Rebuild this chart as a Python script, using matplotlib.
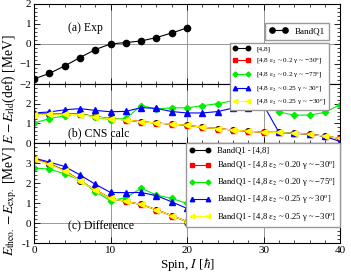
import matplotlib
matplotlib.use('Agg')
import matplotlib.pyplot as plt
from matplotlib.ticker import MultipleLocator

plt.rcParams['font.family'] = 'Liberation Serif'
plt.rcParams['mathtext.fontset'] = 'stix'

# ---- data ----
spin_exp = [0, 2, 4, 6, 8, 10, 12, 14, 16, 18, 20]
spin_calc = [0, 2, 4, 6, 8, 10, 12, 14, 16, 18, 20,
             22, 24, 26, 28, 30, 32, 34, 36, 38, 40]

# (a) experiment
exp_q1 = [-1.75, -1.47, -1.10, -0.68, -0.28, 0.00, 0.07, 0.15, 0.32, 0.55, 0.80]

# (b) CNS calc
calc_48 = [1.48, 1.48, 1.47, 1.46, 1.35, 1.23, 1.18, 1.08, 1.02, 0.96, 0.91,
           0.80, 0.74, 0.66, 0.60, 0.55, 0.54, 0.50, 0.45, 0.35, 0.24]
calc_red = [1.50, 1.49, 1.47, 1.48, 1.35, 1.24, 1.18, 1.08, 1.02, 0.96, 0.91,
            0.80, 0.74, 0.66, 0.60, 0.55, 0.54, 0.50, 0.45, 0.35, 0.24]
calc_green = [1.02, 1.24, 1.39, 1.49, 1.32, 1.19, 1.25, 1.90, 1.73, 1.79, 1.79,
              1.90, 2.00, 2.15, 2.25, 1.95, 1.58, 1.42, 1.42, 1.56, 1.95]
calc_blue = [1.53, 1.58, 1.69, 1.75, 1.66, 1.59, 1.61, 1.80, 1.76, 1.60, 1.53,
             1.53, 1.60, 1.78, 1.80, 1.92, 0.55, 0.51, 0.46, 0.34, 0.08]
calc_yellow = [1.45, 1.47, 1.46, 1.44, 1.34, 1.22, 1.18, 1.08, 1.02, 0.96, 0.91,
               0.80, 0.74, 0.66, 0.60, 0.55, 0.54, 0.50, 0.45, 0.35, 0.24]

# (c) difference theo - exp
diff_48 = [3.20, 2.97, 2.63, 2.12, 1.65, 1.23, 1.08, 0.93, 0.66, 0.37, 0.07]
diff_red = [3.22, 2.97, 2.62, 2.13, 1.65, 1.24, 1.08, 0.93, 0.66, 0.37, 0.07]
diff_green = [2.75, 2.70, 2.46, 2.16, 1.57, 1.12, 1.27, 1.74, 1.40, 1.23, 0.98]
diff_blue = [3.25, 3.05, 2.83, 2.41, 1.94, 1.53, 1.52, 1.53, 1.37, 1.06, 0.73]
diff_yellow = [3.18, 2.95, 2.60, 2.12, 1.64, 1.23, 1.08, 0.93, 0.66, 0.37, 0.07]

calc_labels = ['[4,8]',
               r'[4,8 ε$_2$ ~ 0.2 γ ~ −30$^{\rm o}$]',
               r'[4,8 ε$_2$ ~ 0.2 γ ~ −75$^{\rm o}$]',
               r'[4,8 ε$_2$ ~ 0.25 γ ~ 30$^{\rm o}$]',
               r'[4,8 ε$_2$ ~ 0.25 γ ~ −30$^{\rm o}$]']
diff_labels = ['BandQ1 - [4,8]',
               r'BandQ1 - [4,8 ε$_2$ ~ 0.20 γ ~ −30$^{\rm o}$]',
               r'BandQ1 - [4,8 ε$_2$ ~ 0.20 γ ~ −75$^{\rm o}$]',
               r'BandQ1 - [4,8 ε$_2$ ~ 0.25 γ ~ 30$^{\rm o}$]',
               r'BandQ1 - [4,8 ε$_2$ ~ 0.25 γ ~ −30$^{\rm o}$]']

colors = ['black', '#ff0000', '#00ee00', '#0000ff', '#ffff00']
markers = ['o', 's', 'D', '^', '<']
msizes = [4, 3.6, 3.2, 4, 4.2]

fig = plt.figure(figsize=(3.51, 2.80), dpi=100)
L, W = 0.097, 0.872
ax_a = fig.add_axes([L, 0.700, W, 0.286])
ax_b = fig.add_axes([L, 0.489, W, 0.211])
ax_c = fig.add_axes([L, 0.132, W, 0.357])

for ax in (ax_a, ax_b, ax_c):
    ax.set_xlim(0, 40)
    ax.xaxis.set_major_locator(MultipleLocator(10))
    ax.xaxis.set_minor_locator(MultipleLocator(2))
    ax.yaxis.set_minor_locator(MultipleLocator(0.2))
    ax.tick_params(which='both', direction='in', top=True, right=True,
                   labelsize=8, pad=2)
    ax.tick_params(which='major', length=4, width=0.6)
    ax.tick_params(which='minor', length=2, width=0.5)
    for x in (10, 20, 30):
        ax.axvline(x, color='#888888', lw=0.6, zorder=0)
    for s in ax.spines.values():
        s.set_linewidth(0.8)

leg_kw = dict(frameon=True, fancybox=False, edgecolor='#999999',
              framealpha=1, numpoints=2)

# (a)
ax_a.set_ylim(-2, 2)
ax_a.set_yticks([-2, -1, 0, 1, 2])
ax_a.axhline(0, color='#888888', lw=0.6, zorder=0)
ax_a.plot(spin_exp, exp_q1, color='black', marker='o', ms=4.5, lw=0.8,
          label='BandQ1')
ax_a.tick_params(labelbottom=False)
ax_a.text(4.5, 0.65, '(a) Exp', fontsize=8.5)
ax_a.legend(loc='center', bbox_to_anchor=(0.846, 0.888),
            bbox_transform=fig.transFigure, fontsize=6.5, markerscale=0.85,
            handlelength=2.0, borderpad=0.5, **leg_kw)

# (b)
ax_b.set_ylim(0, 3)
ax_b.set_yticks([0, 1, 2, 3])
ax_b.set_yticklabels(['0', '1', '2', ''])
ax_b.tick_params(labelbottom=False)
for vals, c, m, ms, lab in zip([calc_48, calc_red, calc_green, calc_blue, calc_yellow],
                               colors, markers, msizes, calc_labels):
    ax_b.plot(spin_calc, vals, color=c, marker=m, ms=ms, lw=0.8, label=lab)
ax_b.text(4.5, 0.35, '(b) CNS calc', fontsize=8.5)
leg_b = ax_b.legend(loc='center', bbox_to_anchor=(0.797, 0.727),
                    bbox_transform=fig.transFigure, fontsize=5.2,
                    markerscale=0.8, handlelength=2.4, borderpad=0.4,
                    labelspacing=0.6, **leg_kw)
leg_b.set_zorder(10)

# (c)
ax_c.set_ylim(-1, 4)
ax_c.set_yticks([-1, 0, 1, 2, 3, 4])
ax_c.set_yticklabels(['-1', '0', '1', '2', '3', ''])
ax_c.axhline(0, color='#888888', lw=0.6, zorder=0)
for vals, c, m, ms, lab in zip([diff_48, diff_red, diff_green, diff_blue, diff_yellow],
                               colors, markers, msizes, diff_labels):
    ax_c.plot(spin_exp, vals, color=c, marker=m, ms=ms, lw=0.8, label=lab)
ax_c.text(4.5, -0.3, '(c) Difference', fontsize=8.5)
ax_c.legend(loc='upper right', bbox_to_anchor=(1.0, 1.0), borderaxespad=0,
            fontsize=6.2, markerscale=0.8, handlelength=2.4, borderpad=0.45,
            labelspacing=0.55, **leg_kw)
ax_c.set_xticks([0, 10, 20, 30, 40])
ax_c.set_xlabel(r'Spin, $I$ [$\hbar$]', fontsize=9.5, labelpad=1)

fig.text(0.028, 0.48,
         r'$E_{\rm theo.}-E_{\rm exp.}$ [MeV] $E-E_{\rm rld}$(def) [MeV]',
         rotation=90, fontsize=9.8, ha='center', va='center')

fig.savefig('out.png', dpi=100)
